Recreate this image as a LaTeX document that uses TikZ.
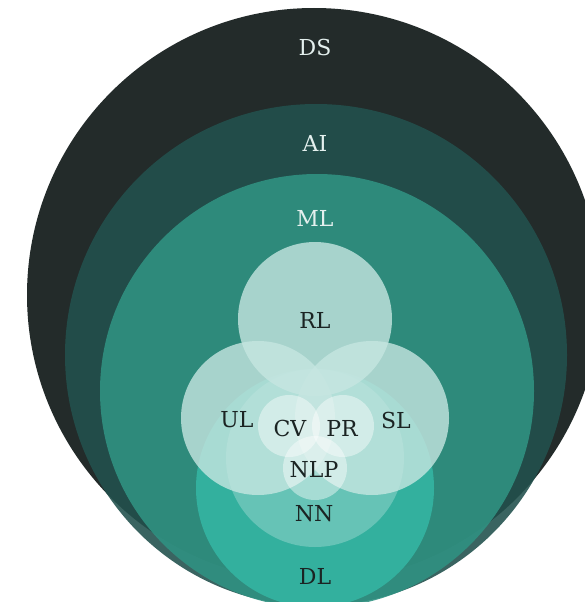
\documentclass[tikz,border=0pt]{standalone}
\usepackage{fontspec}
\setmainfont{DejaVu Serif}
\usepackage{xcolor}
\usepackage{tikz}
\definecolor{dscol}{HTML}{232B2A}
\definecolor{aicol}{HTML}{22514D}
\definecolor{mlcol}{HTML}{309282}
\definecolor{dlcol}{HTML}{33B09E}
\definecolor{fieldcol}{HTML}{C6E6E1}
\definecolor{darktext}{HTML}{1B2423}
\definecolor{lighttext}{HTML}{E4F0EE}
\tikzstyle{shell} = [fill opacity=0.89]
\tikzstyle{field} = [fill=fieldcol, fill opacity=0.8]
\tikzstyle{topic} = [fill=white, fill opacity=0.42]
\tikzstyle{lbl} = [font=\fontsize{22}{25}\selectfont, text=darktext, inner sep=0pt]
\tikzstyle{lbllight} = [lbl, text=lighttext]

\begin{document}
\begin{tikzpicture}[x=1pt, y=-1pt]
\useasboundingbox (0,0) rectangle (585,602);
\clip (0,0) rectangle (585,602);
% nested fields
\fill[dscol] (314,295) circle[radius=287pt];
\fill[aicol, shell] (316,355) circle[radius=251pt];
\fill[mlcol, shell] (317,391) circle[radius=217pt];
\fill[dlcol] (315,488) circle[radius=119pt];
\fill[white, fill opacity=0.25] (315,458) circle[radius=89pt];
% learning types
\fill[field] (258,418) circle[radius=77pt];
\fill[field] (372,418) circle[radius=77pt];
\fill[field] (315,319) circle[radius=77pt];
% applications
\fill[topic] (289,426) circle[radius=31pt];
\fill[topic] (343,426) circle[radius=31pt];
\fill[topic] (315,468) circle[radius=32pt];
% labels
\node(DS)[lbllight] at (315,47) {DS};
\node(AI)[lbllight] at (315,143) {AI};
\node(ML)[lbllight] at (315,218) {ML};
\node(RL)[lbl] at (315,320) {RL};
\node(UL)[lbl] at (237,420) {UL};
\node(SL)[lbl] at (396,420) {SL};
\node(CV)[lbl] at (290,428) {CV};
\node(PR)[lbl] at (342,428) {PR};
\node(NLP)[lbl] at (314,470) {NLP};
\node(NN)[lbl] at (314,514) {NN};
\node(DL)[lbl] at (315,576) {DL};
\end{tikzpicture}
\end{document}
